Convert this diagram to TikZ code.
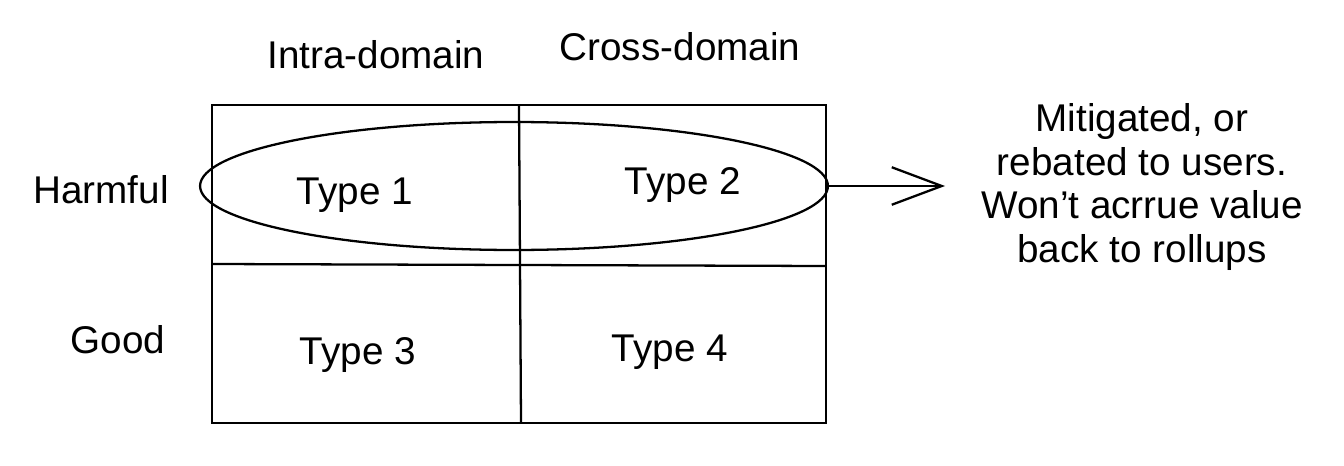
\documentclass[tikz,border=0pt]{standalone}
\usepackage{fontspec}
\setmainfont{Liberation Sans}
\usetikzlibrary{arrows.meta, positioning, shapes.geometric}

\begin{document}
\begin{tikzpicture}[x=0.02cm, y=-0.02cm, line width=1.3pt,
    lbl/.style={font=\fontsize{22}{25}\selectfont}]
  \useasboundingbox (0,0) rectangle (1344,466);
  % Frame of the 2x2 grid
  \draw (212,105) rectangle (826,423);
  \draw (212,264) -- (826,266);
  \draw (519,105) -- (521,423);
  % Column headings
  \node[lbl] (intra) at (376,55) {Intra-domain};
  \node[lbl] (cross) at (680,47) {Cross-domain};
  % Row headings
  \node[lbl] (harmful) at (101,190) {Harmful};
  \node[lbl] (good) at (118,340) {Good};
  % Cell labels
  \node[lbl] (t1) at (355,195) {Type 1};
  \node[lbl] (t2) at (683,185) {Type 2};
  \node[lbl] (t3) at (358,355) {Type 3};
  \node[lbl] (t4) at (670,352) {Type 4};
  % Harmful row circled
  \node[draw, ellipse, minimum width=12.56cm, minimum height=2.56cm,
        inner sep=0pt] (harm) at (514,186) {};
  % Arrow to the note
  \coordinate (tip) at (945,186);
  \draw[-{Straight Barb[length=1cm, width=0.75cm]}] (harm.east) -- (tip);
  \node[lbl, align=center] (note) at (1142,187)
    {Mitigated, or\\rebated to users.\\Won\char"27{}t acrrue value\\back to rollups};
\end{tikzpicture}
\end{document}
